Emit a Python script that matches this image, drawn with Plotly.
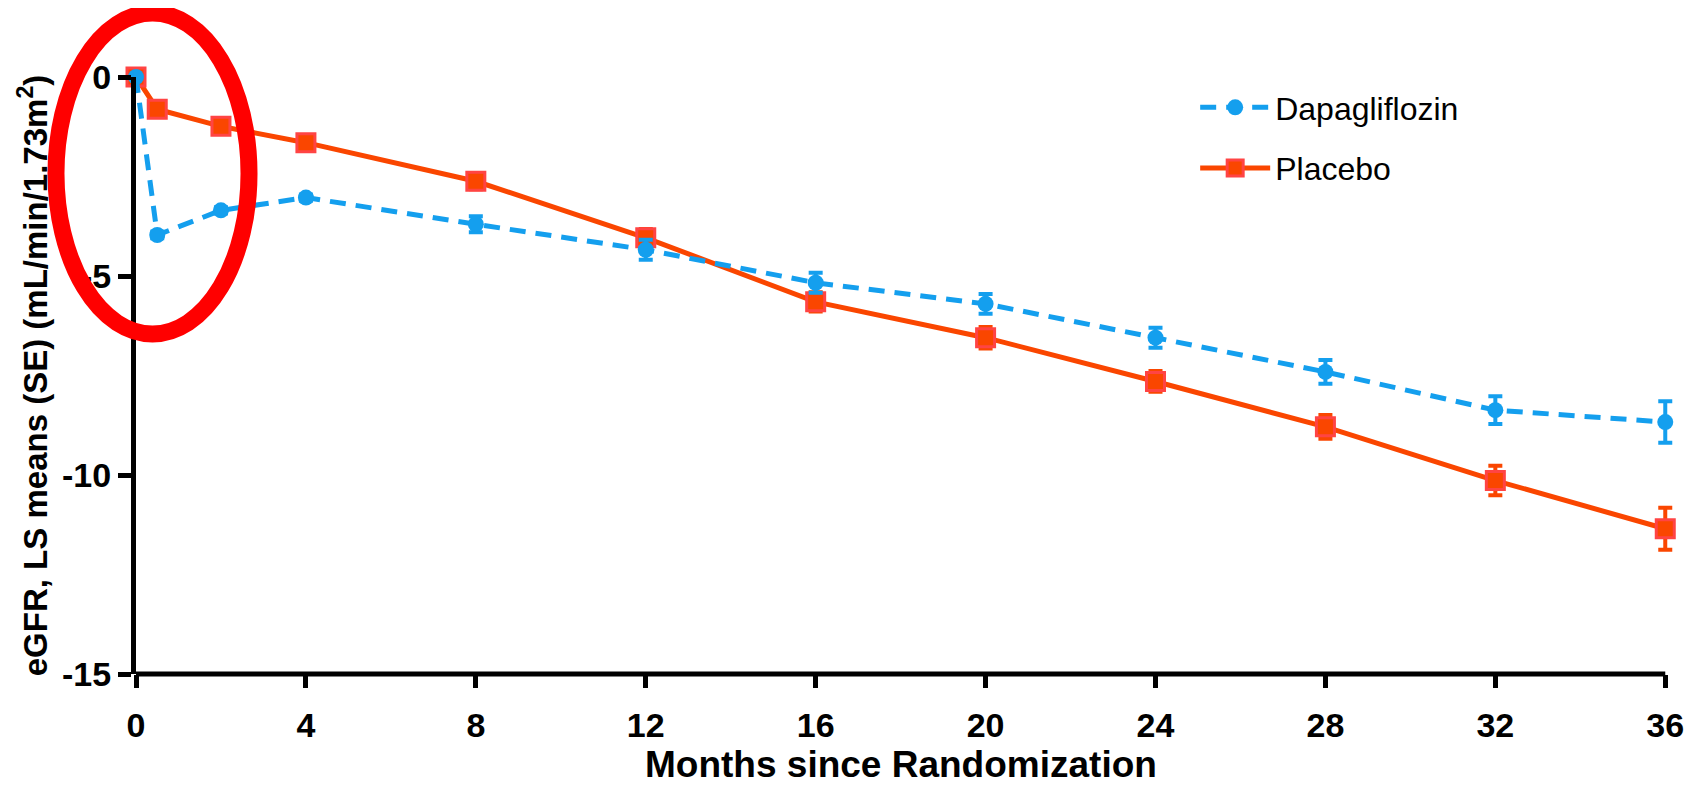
import plotly.graph_objects as go

months = [0, 0.5, 2, 4, 8, 12, 16, 20, 24, 28, 32, 36]
dapa = [0, -3.97, -3.35, -3.03, -3.70, -4.34, -5.17, -5.70, -6.55, -7.41, -8.37, -8.67]
dapa_se = [0, 0.08, 0.08, 0.08, 0.2, 0.25, 0.25, 0.25, 0.25, 0.3, 0.35, 0.52]
plac = [0, -0.81, -1.24, -1.65, -2.62, -4.04, -5.65, -6.55, -7.65, -8.79, -10.14, -11.35]
plac_se = [0, 0.08, 0.08, 0.1, 0.2, 0.22, 0.24, 0.27, 0.26, 0.3, 0.37, 0.53]
xticks = [0, 4, 8, 12, 16, 20, 24, 28, 32, 36]
yticks = [-15, -10, -5, 0]
yticklabels = ["-15", "-10", "-5", "0"]
x_title = "Months since Randomization"
y_title = "eGFR, LS means (SE) (mL/min/1.73m<sup>2</sup>)"
x_max = 36
x_pad = 0.3

BLUE = "#149FEE"
ORANGE = "#FA4600"
RED = "#FF4444"
FONT = "Liberation Sans, Arial"

fig = go.Figure()
fig.add_trace(go.Scatter(
    x=months, y=plac, name="Placebo", mode="lines+markers",
    line=dict(color=ORANGE, width=5),
    marker=dict(symbol="square", size=18, color=ORANGE, line=dict(color=RED, width=3)),
    error_y=dict(type="data", array=plac_se, color=ORANGE, thickness=4, width=7),
    cliponaxis=False, legendgroup="p", legendrank=2,
))
fig.add_trace(go.Scatter(
    x=months, y=dapa, name="Dapagliflozin", mode="lines+markers",
    line=dict(color=BLUE, width=5, dash="16px,10px"),
    marker=dict(symbol="circle", size=16, color=BLUE),
    error_y=dict(type="data", array=dapa_se, color=BLUE, thickness=4, width=7),
    cliponaxis=False, legendgroup="d", legendrank=1,
))

# page is 1694x786; the html body adds an 8px margin, so work in figure coords
OFF = 8
W, H = 1694 - 2 * OFF, 786 - 2 * OFF
L = 136 - OFF
T = 77 - OFF
bottom_px = 674 - OFF
B = H - bottom_px
x36_px = 1665 - OFF
plot_right = L + (x36_px - L) * (x_max + x_pad) / x_max
R = W - plot_right
pw, ph = plot_right - L, H - T - B

def px2paper_x(px):
    return (px - OFF - L) / pw

def px2paper_y(py):
    return (H - B - (py - OFF)) / ph

# x-axis line from 0 to 36 only
fig.add_shape(type="line", xref="paper", yref="paper",
              x0=0, x1=x_max / (x_max + x_pad), y0=0, y1=0,
              line=dict(color="black", width=5))

fig.add_shape(type="circle", xref="paper", yref="paper",
              x0=px2paper_x(56), x1=px2paper_x(249), y0=px2paper_y(334), y1=px2paper_y(13),
              line=dict(color="#FF0000", width=17))

# x-axis title as annotation (axis titles are constrained to the margin)
fig.add_annotation(text="<b>" + x_title + "</b>", xref="paper", yref="paper",
                   x=0.5 * x_max / (x_max + x_pad), y=px2paper_y(764),
                   xanchor="center", yanchor="middle", showarrow=False,
                   font=dict(family=FONT, size=37, color="black"))

fig.update_layout(
    width=W, height=H,
    margin=dict(l=L, r=R, t=T, b=B, pad=0),
    paper_bgcolor="white", plot_bgcolor="white",
    showlegend=True,
    legend=dict(x=px2paper_x(1195), y=px2paper_y(80), xanchor="left", yanchor="top",
                font=dict(family=FONT, size=32, color="black"),
                itemwidth=70,
                tracegroupgap=16, bgcolor="rgba(0,0,0,0)"),
    xaxis=dict(range=[0, x_max + x_pad], tickvals=xticks, showgrid=False, zeroline=False,
               showline=False, automargin=False,
               ticks="outside", ticklen=13, tickwidth=5, tickcolor="black",
               ticklabelstandoff=8,
               tickfont=dict(family=FONT, size=34, color="black", weight="bold")),
    yaxis=dict(range=[-15, 0], tickvals=yticks, ticktext=yticklabels,
               showgrid=False, zeroline=False,
               showline=True, linecolor="black", linewidth=5, automargin=False,
               ticks="outside", ticklen=13, tickwidth=5, tickcolor="black",
               ticklabelstandoff=0,
               tickfont=dict(family=FONT, size=34, color="black", weight="bold"),
               title=dict(text="<b>" + y_title + "</b>", standoff=6,
                          font=dict(family=FONT, size=33, color="black"))),
)

fig.write_html("out.html")
